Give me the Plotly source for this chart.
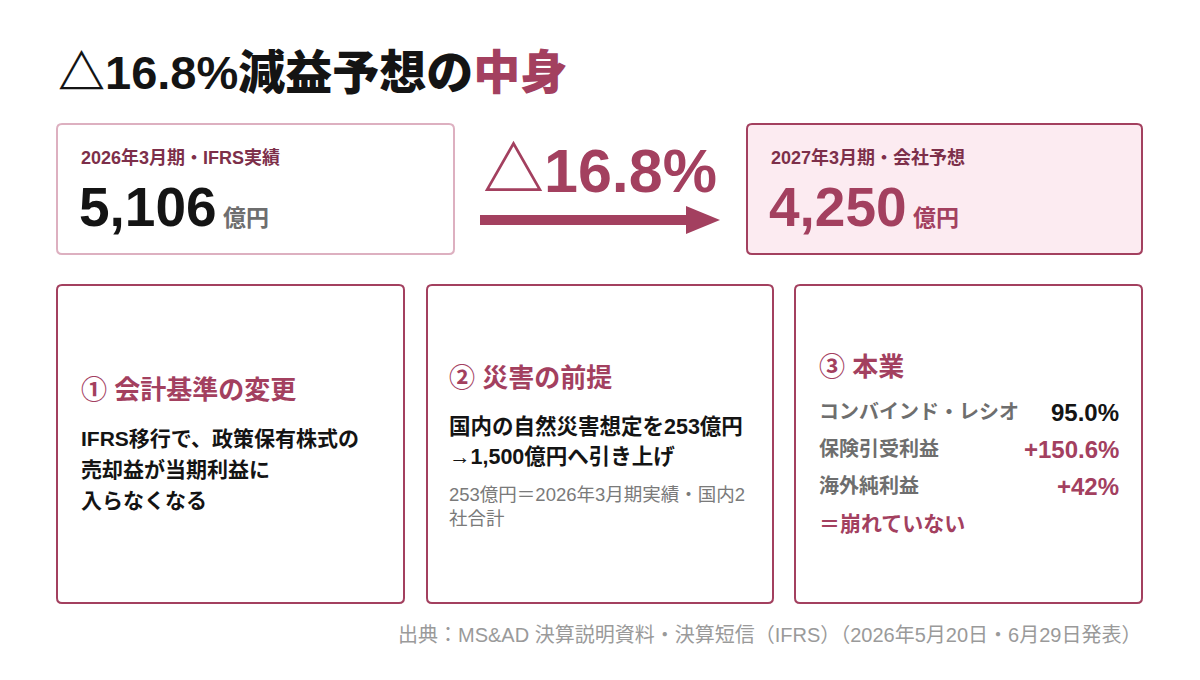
import plotly.graph_objects as go

# ---- data ----
title_main = "△16.8%減益予想の"
title_accent = "中身"
period_labels = ["2026年3月期・IFRS実績", "2027年3月期・会社予想"]
profit_values = [5106, 4250]          # 億円
unit = "億円"
change_pct = -16.8
card_titles = ["① 会計基準の変更", "② 災害の前提", "③ 本業"]
card1_lines = ["IFRS移行で、政策保有株式の", "売却益が当期利益に", "入らなくなる"]
disaster_before = 253
disaster_after = 1500
card2_notes = ["253億円＝2026年3月期実績・国内2", "社合計"]
metric_labels = ["コンバインド・レシオ", "保険引受利益", "海外純利益"]
metric_values = ["95.0%", "+150.6%", "+42%"]
card3_conclusion = "＝崩れていない"
source_text = "出典：MS&AD 決算説明資料・決算短信（IFRS）（2026年5月20日・6月29日発表）"

# ---- style ----
FONT = "Liberation Sans, Noto Sans CJK JP, sans-serif"
ACCENT = "#A3405F"
DARK_ACCENT = "#7D2F4A"
PINK_BORDER = "#DDB0C0"
PINK_FILL = "#FCEBF1"
BLACK = "#141414"
GREY = "#6E6E6E"

fig = go.Figure()
fig.add_trace(go.Scatter(x=[8, 1208], y=[8, 688], mode="markers",
                         marker=dict(opacity=0), hoverinfo="skip", showlegend=False))

shapes = []
annos = []


def rrect(x0, y0, x1, y1, line, fill, width=2, r=5):
    path = (f"M{x0+r},{y0} L{x1-r},{y0} Q{x1},{y0} {x1},{y0+r} L{x1},{y1-r} Q{x1},{y1} {x1-r},{y1} "
            f"L{x0+r},{y1} Q{x0},{y1} {x0},{y1-r} L{x0},{y0+r} Q{x0},{y0} {x0+r},{y0} Z")
    shapes.append(dict(type="path", path=path, xref="x", yref="y",
                       line=dict(color=line, width=width), fillcolor=fill, layer="below"))


def text(x, y, s, size, color, bold=True, xanchor="left", yanchor="middle", weight=None):
    annos.append(dict(x=x, y=y, xref="x", yref="y", text=s, showarrow=False,
                      xanchor=xanchor, yanchor=yanchor, align=xanchor if xanchor != "center" else "center",
                      font=dict(family=FONT, size=size, color=color,
                                weight=weight if weight else ("bold" if bold else "normal"))))


# title
text(56, 72, f"{title_main}<span style='color:{ACCENT}'>{title_accent}</span>", 47, BLACK, weight=900)

# top cards
rrect(57, 124, 454, 254, PINK_BORDER, "white")
rrect(747, 124, 1142, 254, ACCENT, PINK_FILL)
text(79, 157, period_labels[0], 18, DARK_ACCENT)
text(769, 157, period_labels[1], 18, DARK_ACCENT)
text(77, 207, f"{profit_values[0]:,}<span style='font-size:23px;color:{GREY}'> {unit}</span>", 55, BLACK)
text(767, 207, f"{profit_values[1]:,}<span style='font-size:23px'> {unit}</span>", 55, ACCENT)

# change + arrow
text(600, 171, f"△{abs(change_pct):.1f}%", 61, ACCENT, xanchor="center")
shapes.append(dict(type="rect", xref="x", yref="y", x0=480, x1=690, y0=215, y1=225,
                   fillcolor=ACCENT, line=dict(width=0)))
shapes.append(dict(type="path", xref="x", yref="y", path="M686,206 L720,220 L686,234 Z",
                   fillcolor=ACCENT, line=dict(width=0)))

# bottom cards
for x0, x1 in [(57, 404), (427, 773), (795, 1142)]:
    rrect(x0, 285, x1, 603, ACCENT, "white")

# card 1
text(79, 390, card_titles[0], 26, ACCENT)
for i, ln in enumerate(card1_lines):
    text(79, 438 + i * 31, ln, 21, BLACK)

# card 2
text(447, 378, card_titles[1], 26, ACCENT)
text(447, 426, f"国内の自然災害想定を{disaster_before}{unit}", 21.5, BLACK)
text(447, 457, f"→{disaster_after:,}{unit}へ引き上げ", 21.5, BLACK)
for i, ln in enumerate(card2_notes):
    text(447, 494 + i * 24, ln, 18.5, "#7A7A7A", bold=False)

# card 3
text(817, 367, card_titles[2], 26, ACCENT)
for i, (lab, val) in enumerate(zip(metric_labels, metric_values)):
    y = 412 + i * 37
    text(817, y, lab, 20, GREY)
    text(1121, y, val, 24, BLACK if i == 0 else ACCENT, xanchor="right")
text(817, 523, card3_conclusion, 21, ACCENT)

# source
text(1143, 635, source_text, 20, "#9A9A9A", bold=False, xanchor="right")

fig.update_layout(
    width=1200, height=680, margin=dict(l=0, r=0, t=0, b=0),
    paper_bgcolor="white", plot_bgcolor="white",
    xaxis=dict(range=[8, 1208], visible=False, fixedrange=True),
    yaxis=dict(range=[688, 8], visible=False, fixedrange=True),
    shapes=shapes, annotations=annos, showlegend=False,
)
fig.write_html("out.html", config={"displayModeBar": False})
